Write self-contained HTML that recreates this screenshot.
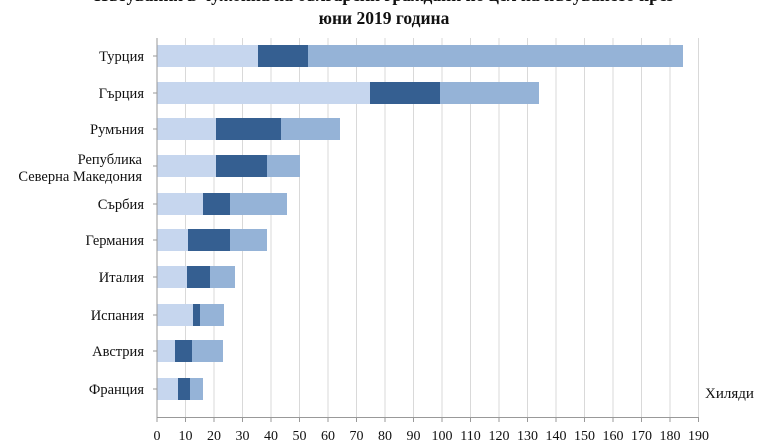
<!DOCTYPE html>
<html><head><meta charset="utf-8"><style>
html,body{margin:0;padding:0;background:#fff;width:768px;height:445px;overflow:hidden}
svg{display:block}
text{font-family:"Liberation Serif","DejaVu Serif",serif;fill:#111}
</style></head><body>
<svg width="768" height="445" xmlns="http://www.w3.org/2000/svg">
<text x="384" y="1" text-anchor="middle" font-size="17.5" font-weight="bold">Пътувания в чужбина на български граждани по цел на пътуването през</text>
<text x="384" y="24" text-anchor="middle" font-size="17.5" font-weight="bold">юни 2019 година</text>
<g stroke="#d9d9d9" stroke-width="1">
<line x1="185.5" y1="38" x2="185.5" y2="417"/><line x1="214" y1="38" x2="214" y2="417"/><line x1="242.5" y1="38" x2="242.5" y2="417"/><line x1="271" y1="38" x2="271" y2="417"/><line x1="299.5" y1="38" x2="299.5" y2="417"/><line x1="328" y1="38" x2="328" y2="417"/><line x1="356.5" y1="38" x2="356.5" y2="417"/><line x1="385" y1="38" x2="385" y2="417"/><line x1="413.5" y1="38" x2="413.5" y2="417"/><line x1="442" y1="38" x2="442" y2="417"/><line x1="470.5" y1="38" x2="470.5" y2="417"/><line x1="499" y1="38" x2="499" y2="417"/><line x1="527.5" y1="38" x2="527.5" y2="417"/><line x1="556" y1="38" x2="556" y2="417"/><line x1="584.5" y1="38" x2="584.5" y2="417"/><line x1="613" y1="38" x2="613" y2="417"/><line x1="641.5" y1="38" x2="641.5" y2="417"/><line x1="670" y1="38" x2="670" y2="417"/><line x1="698.5" y1="38" x2="698.5" y2="417"/>
</g>
<g>
<rect x="157" y="45" width="101" height="22" fill="#c6d6ee"/><rect x="258" y="45" width="50" height="22" fill="#355f91"/><rect x="308" y="45" width="375" height="22" fill="#95b3d7"/>
<rect x="157" y="82" width="213" height="22" fill="#c6d6ee"/><rect x="370" y="82" width="70" height="22" fill="#355f91"/><rect x="440" y="82" width="99" height="22" fill="#95b3d7"/>
<rect x="157" y="118" width="59" height="22" fill="#c6d6ee"/><rect x="216" y="118" width="65" height="22" fill="#355f91"/><rect x="281" y="118" width="59" height="22" fill="#95b3d7"/>
<rect x="157" y="155" width="59" height="22" fill="#c6d6ee"/><rect x="216" y="155" width="51" height="22" fill="#355f91"/><rect x="267" y="155" width="33" height="22" fill="#95b3d7"/>
<rect x="157" y="193" width="46" height="22" fill="#c6d6ee"/><rect x="203" y="193" width="27" height="22" fill="#355f91"/><rect x="230" y="193" width="57" height="22" fill="#95b3d7"/>
<rect x="157" y="229" width="31" height="22" fill="#c6d6ee"/><rect x="188" y="229" width="42" height="22" fill="#355f91"/><rect x="230" y="229" width="37" height="22" fill="#95b3d7"/>
<rect x="157" y="266" width="30" height="22" fill="#c6d6ee"/><rect x="187" y="266" width="23" height="22" fill="#355f91"/><rect x="210" y="266" width="25" height="22" fill="#95b3d7"/>
<rect x="157" y="304" width="36" height="22" fill="#c6d6ee"/><rect x="193" y="304" width="7" height="22" fill="#355f91"/><rect x="200" y="304" width="24" height="22" fill="#95b3d7"/>
<rect x="157" y="340" width="18" height="22" fill="#c6d6ee"/><rect x="175" y="340" width="17" height="22" fill="#355f91"/><rect x="192" y="340" width="31" height="22" fill="#95b3d7"/>
<rect x="157" y="378" width="21" height="22" fill="#c6d6ee"/><rect x="178" y="378" width="12" height="22" fill="#355f91"/><rect x="190" y="378" width="13" height="22" fill="#95b3d7"/>
</g>
<g stroke="#999" stroke-width="1">
<line x1="157" y1="38" x2="157" y2="417"/><line x1="157" y1="417.5" x2="699" y2="417.5"/>
<line x1="153" y1="56" x2="157" y2="56"/><line x1="153" y1="93" x2="157" y2="93"/><line x1="153" y1="129" x2="157" y2="129"/><line x1="153" y1="166" x2="157" y2="166"/><line x1="153" y1="204" x2="157" y2="204"/><line x1="153" y1="240" x2="157" y2="240"/><line x1="153" y1="277" x2="157" y2="277"/><line x1="153" y1="315" x2="157" y2="315"/><line x1="153" y1="351" x2="157" y2="351"/><line x1="153" y1="389" x2="157" y2="389"/>
<line x1="157" y1="417" x2="157" y2="422"/><line x1="185.5" y1="417" x2="185.5" y2="422"/><line x1="214" y1="417" x2="214" y2="422"/><line x1="242.5" y1="417" x2="242.5" y2="422"/><line x1="271" y1="417" x2="271" y2="422"/><line x1="299.5" y1="417" x2="299.5" y2="422"/><line x1="328" y1="417" x2="328" y2="422"/><line x1="356.5" y1="417" x2="356.5" y2="422"/><line x1="385" y1="417" x2="385" y2="422"/><line x1="413.5" y1="417" x2="413.5" y2="422"/><line x1="442" y1="417" x2="442" y2="422"/><line x1="470.5" y1="417" x2="470.5" y2="422"/><line x1="499" y1="417" x2="499" y2="422"/><line x1="527.5" y1="417" x2="527.5" y2="422"/><line x1="556" y1="417" x2="556" y2="422"/><line x1="584.5" y1="417" x2="584.5" y2="422"/><line x1="613" y1="417" x2="613" y2="422"/><line x1="641.5" y1="417" x2="641.5" y2="422"/><line x1="670" y1="417" x2="670" y2="422"/><line x1="698.5" y1="417" x2="698.5" y2="422"/>
</g>
<g font-size="14.5" text-anchor="end">
<text x="144" y="61">Турция</text>
<text x="144" y="98">Гърция</text>
<text x="144" y="134">Румъния</text>
<text x="142" y="164">Република</text>
<text x="142" y="181">Северна Македония</text>
<text x="144" y="209">Сърбия</text>
<text x="144" y="245">Германия</text>
<text x="144" y="282">Италия</text>
<text x="144" y="320">Испания</text>
<text x="144" y="356">Австрия</text>
<text x="144" y="394">Франция</text>
</g>
<text x="705" y="398" font-size="15">Хиляди</text>
<g font-size="14" text-anchor="middle">
<text x="157" y="440">0</text><text x="185.5" y="440">10</text><text x="214" y="440">20</text><text x="242.5" y="440">30</text><text x="271" y="440">40</text><text x="299.5" y="440">50</text><text x="328" y="440">60</text><text x="356.5" y="440">70</text><text x="385" y="440">80</text><text x="413.5" y="440">90</text><text x="442" y="440">100</text><text x="470.5" y="440">110</text><text x="499" y="440">120</text><text x="527.5" y="440">130</text><text x="556" y="440">140</text><text x="584.5" y="440">150</text><text x="613" y="440">160</text><text x="641.5" y="440">170</text><text x="670" y="440">180</text><text x="698.5" y="440">190</text>
</g>
</svg>
</body></html>
